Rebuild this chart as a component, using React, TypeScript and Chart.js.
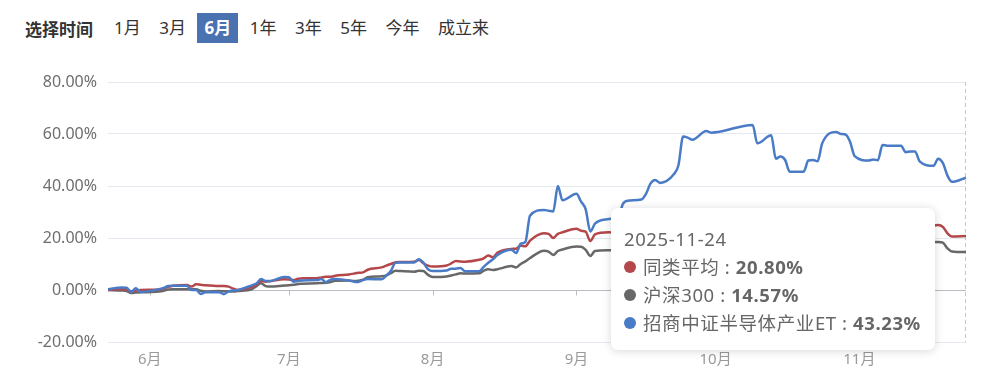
import React, { useEffect, useRef } from "react";
import { Chart, registerables } from "chart.js";

Chart.register(...registerables);

const FONT = '"Microsoft YaHei", "Noto Sans", "Noto Sans CJK SC", sans-serif';

const periods = ["1月", "3月", "6月", "1年", "3年", "5年", "今年", "成立来"];
const selectedPeriod = "6月";
const seriesNames = ["同类平均", "沪深300", "招商中证半导体产业ET"];
const seriesColors = ["#b4474a", "#686868", "#4a7bc6"];

const rangeStart = "2025-05-23";
const rangeEnd = "2025-11-24";
const monthTicks = ["2025-06-01", "2025-07-01", "2025-08-01", "2025-09-01", "2025-10-01", "2025-11-01"];
const monthLabels = ["6月", "7月", "8月", "9月", "10月", "11月"];
const yTicks = [-20, 0, 20, 40, 60, 80];

const dates = [
  "2025-05-23", "2025-05-26", "2025-05-27", "2025-05-28", "2025-05-29", "2025-05-30",
  "2025-06-03", "2025-06-04", "2025-06-05", "2025-06-06", "2025-06-09", "2025-06-10", "2025-06-11", "2025-06-12", "2025-06-13",
  "2025-06-16", "2025-06-17", "2025-06-18", "2025-06-19", "2025-06-20", "2025-06-23", "2025-06-24", "2025-06-25", "2025-06-26", "2025-06-27", "2025-06-30",
  "2025-07-01", "2025-07-02", "2025-07-03", "2025-07-04", "2025-07-07", "2025-07-08", "2025-07-09", "2025-07-10", "2025-07-11",
  "2025-07-14", "2025-07-15", "2025-07-16", "2025-07-17", "2025-07-18", "2025-07-21", "2025-07-22", "2025-07-23", "2025-07-24", "2025-07-25",
  "2025-07-28", "2025-07-29", "2025-07-30", "2025-07-31",
  "2025-08-01", "2025-08-04", "2025-08-05", "2025-08-06", "2025-08-07", "2025-08-08", "2025-08-11", "2025-08-12", "2025-08-13", "2025-08-14", "2025-08-15",
  "2025-08-18", "2025-08-19", "2025-08-20", "2025-08-21", "2025-08-22", "2025-08-25", "2025-08-26", "2025-08-27", "2025-08-28", "2025-08-29",
  "2025-09-01", "2025-09-02", "2025-09-03", "2025-09-04", "2025-09-05", "2025-09-08", "2025-09-09", "2025-09-10", "2025-09-11", "2025-09-12",
  "2025-09-15", "2025-09-16", "2025-09-17", "2025-09-18", "2025-09-19", "2025-09-22", "2025-09-23", "2025-09-24", "2025-09-25", "2025-09-26",
  "2025-09-29", "2025-09-30",
  "2025-10-09", "2025-10-10", "2025-10-13", "2025-10-14", "2025-10-15", "2025-10-16", "2025-10-17", "2025-10-20", "2025-10-21", "2025-10-22",
  "2025-10-23", "2025-10-24", "2025-10-27", "2025-10-28", "2025-10-29", "2025-10-30", "2025-10-31",
  "2025-11-03", "2025-11-04", "2025-11-05", "2025-11-06", "2025-11-07", "2025-11-10", "2025-11-11", "2025-11-12", "2025-11-13", "2025-11-14",
  "2025-11-17", "2025-11-18", "2025-11-19", "2025-11-20", "2025-11-21", "2025-11-24",
];

const avgValues = [
  0.0, 0.4, 0.2, -0.5, -0.3, 0.0,
  0.2, 0.6, 1.2, 1.6, 1.9, 1.3, 2.2, 2.0, 1.8,
  1.5, 1.5, 1.3, 0.5, 0.0, 1.2, 2.0, 3.5, 3.2, 3.4, 4.1,
  4.0, 3.8, 4.3, 4.5, 4.5, 4.8, 5.1, 5.1, 5.5,
  6.0, 6.3, 6.6, 6.8, 7.8, 8.7, 9.4, 10.0, 10.7, 10.8,
  10.9, 11.5, 10.3, 9.4,
  9.0, 9.4, 10.2, 11.2, 11.0, 10.9, 11.6, 12.2, 13.3, 12.6, 14.4,
  15.8, 15.9, 17.0, 16.8, 19.0, 21.8, 21.6, 20.0, 21.6, 22.2,
  23.6, 22.8, 22.4, 18.8, 21.4, 22.2, 22.0, 22.5, 23.4, 23.8,
  23.9, 24.2, 25.0, 24.6, 24.8, 25.3, 25.8, 27.0, 26.8, 26.2,
  27.2, 27.5,
  28.2, 26.0, 26.8, 25.2, 25.9, 25.5, 24.0, 24.5, 25.3, 25.2,
  25.0, 26.5, 27.6, 27.3, 27.5, 26.6, 25.8,
  25.9, 25.0, 25.3, 26.4, 26.2, 26.4, 25.9, 25.7, 25.9, 25.0,
  24.8, 25.0, 24.3, 21.8, 20.6, 20.8,
];

const hs300Values = [
  0.0, -0.2, -0.4, -1.2, -1.0, -0.9,
  -0.6, -0.3, 0.2, 0.3, 0.3, 0.3, 0.3, -0.3, -0.6,
  -0.4, -0.5, -0.5, -0.6, -0.4, 0.3, 1.5, 2.6, 1.5, 1.3, 1.7,
  1.8, 2.0, 2.3, 2.4, 2.6, 2.7, 2.8, 3.1, 3.6,
  3.7, 3.5, 3.6, 4.0, 4.9, 5.3, 5.6, 6.5, 7.4, 7.3,
  7.0, 7.4, 7.3, 5.8,
  5.0, 5.2, 5.6, 6.0, 6.4, 6.3, 6.4, 7.4, 8.0, 7.7, 8.0,
  9.2, 8.7, 10.0, 11.0, 12.3, 15.1, 14.8, 13.5, 15.0, 15.6,
  16.7, 16.6, 15.4, 13.1, 15.0, 15.3, 15.4, 15.6, 16.5, 16.8,
  17.0, 16.6, 17.2, 16.0, 16.2, 16.4, 16.2, 17.3, 17.5, 16.6,
  17.8, 18.4,
  19.8, 18.2, 17.4, 17.1, 18.4, 18.3, 16.5, 17.5, 19.2, 18.9,
  19.2, 20.0, 21.3, 21.0, 21.6, 20.6, 19.8,
  20.4, 19.4, 19.6, 20.5, 20.2, 20.6, 20.3, 20.1, 20.4, 19.0,
  18.4, 18.5, 18.2, 16.0, 14.8, 14.57,
];

const etfValues = [
  0.3, 1.0, 0.9, -0.8, 0.7, -0.8,
  0.3, 0.8, 1.5, 1.6, 1.6, 0.0, 0.0, -1.5, -0.9,
  -0.9, -1.6, -0.5, -0.2, 0.0, 1.8, 2.5, 4.2, 3.5, 3.5, 5.0,
  4.9, 3.2, 3.5, 3.7, 3.8, 4.2, 3.0, 4.0, 4.2,
  3.6, 3.2, 3.1, 3.8, 4.2, 4.1, 5.5, 7.4, 10.5, 10.6,
  10.6, 11.8, 10.5, 8.0,
  7.3, 7.5, 8.2, 8.2, 8.5, 7.2, 7.2, 8.9, 10.5, 11.8, 13.5,
  15.5, 14.2, 17.8, 18.5, 28.6, 30.8, 30.5, 30.2, 40.0, 34.5,
  37.0, 34.0, 31.0, 22.5, 25.5, 27.3, 27.5, 27.6, 33.0, 34.3,
  34.8, 37.0, 41.0, 42.3, 41.2, 44.5, 48.0, 59.0, 58.6, 57.8,
  61.2, 60.5,
  63.5, 56.4, 59.5, 50.5, 51.3, 50.0, 45.5, 45.5, 49.8, 50.0,
  49.5, 56.4, 60.8, 60.0, 59.8, 57.0, 51.5,
  49.8, 50.2, 49.9, 55.8, 55.5, 55.5, 53.0, 53.3, 53.3, 49.5,
  47.8, 50.5, 48.9, 44.0, 41.6, 43.23,
];

const seriesValues = [avgValues, hs300Values, etfValues];

function dayNum(s: string): number {
  const [y, m, d] = s.split("-").map(Number);
  return Date.UTC(y, m - 1, d) / 86400000;
}

export default function App() {
  const canvasRef = useRef<HTMLCanvasElement>(null);
  const tipRef = useRef<HTMLDivElement>(null);

  useEffect(() => {
    const canvas = canvasRef.current!;
    const tip = tipRef.current!;
    const lastIndex = dates.length - 1;

    const axisPlugin = {
      id: "zeroAxis",
      beforeDatasetsDraw(chart: any) {
        const { ctx, chartArea, scales } = chart;
        const y0 = Math.round(scales.y.getPixelForValue(0)) + 0.5;
        ctx.save();
        ctx.strokeStyle = "#b9bcc4";
        ctx.lineWidth = 1;
        ctx.beginPath();
        ctx.moveTo(chartArea.left, y0);
        ctx.lineTo(chartArea.right, y0);
        monthTicks.forEach((d) => {
          const x = Math.round(scales.x.getPixelForValue(dayNum(d))) + 0.5;
          ctx.moveTo(x, y0);
          ctx.lineTo(x, y0 + 5);
        });
        ctx.stroke();
        const px = Math.round(scales.x.getPixelForValue(dayNum(dates[lastIndex]))) - 0.5;
        ctx.strokeStyle = "#c4c7cf";
        ctx.setLineDash([4, 3]);
        ctx.beginPath();
        ctx.moveTo(px, chartArea.top);
        ctx.lineTo(px, chartArea.bottom);
        ctx.stroke();
        ctx.restore();
      },
    };

    const external = ({ chart, tooltip }: any) => {
      const pts = tooltip.dataPoints || [];
      if (!pts.length) {
        tip.style.opacity = "0";
        return;
      }
      const sorted = [...pts].sort((a: any, b: any) => a.datasetIndex - b.datasetIndex);
      const idx = sorted[0].dataIndex;
      tip.innerHTML = "";
      const title = document.createElement("div");
      title.textContent = dates[idx];
      tip.appendChild(title);
      sorted.forEach((p: any) => {
        const row = document.createElement("div");
        row.style.display = "flex";
        row.style.alignItems = "center";
        const dot = document.createElement("span");
        dot.style.cssText = `display:inline-block;width:12px;height:12px;border-radius:6px;margin-right:7px;background:${seriesColors[p.datasetIndex]}`;
        const label = document.createElement("span");
        label.textContent = seriesNames[p.datasetIndex] + " : ";
        label.style.whiteSpace = "pre";
        const val = document.createElement("span");
        val.style.fontWeight = "bold";
        val.textContent = seriesValues[p.datasetIndex][p.dataIndex].toFixed(2) + "%";
        row.appendChild(dot);
        row.appendChild(label);
        row.appendChild(val);
        tip.appendChild(row);
      });
      const x = chart.scales.x.getPixelForValue(dayNum(dates[idx]));
      tip.style.opacity = "1";
      tip.style.left = canvas.offsetLeft + x - 31 - tip.offsetWidth + "px";
      tip.style.top = canvas.offsetTop + chart.chartArea.top + 126 + "px";
    };

    const chart = new Chart(canvas, {
      type: "line",
      data: {
        datasets: seriesNames.map((name, i) => ({
          label: name,
          data: dates.map((d, j) => ({ x: dayNum(d), y: seriesValues[i][j] })),
          borderColor: seriesColors[i],
          backgroundColor: seriesColors[i],
          borderWidth: 2.5,
          pointRadius: 0,
          pointHoverRadius: 0,
          cubicInterpolationMode: "monotone" as const,
          fill: false,
          order: i === 2 ? 0 : i + 1,
        })),
      },
      options: {
        responsive: false,
        animation: false,
        events: [],
        layout: { padding: { top: 22, right: 18, left: 0, bottom: 0 } },
        plugins: {
          legend: { display: false },
          tooltip: { enabled: false, mode: "index", intersect: false, external },
        },
        scales: {
          x: {
            type: "linear",
            min: dayNum(rangeStart),
            max: dayNum(rangeEnd),
            afterBuildTicks: (scale: any) => {
              scale.ticks = monthTicks.map((d) => ({ value: dayNum(d) }));
            },
            afterFit: (scale: any) => {
              scale.height = 36;
            },
            grid: { display: false, drawTicks: false },
            border: { display: false },
            ticks: {
              autoSkip: false,
              maxRotation: 0,
              padding: 9,
              color: "#9a9a9a",
              font: { family: FONT, size: 15 },
              callback: (v: any) => {
                const k = monthTicks.findIndex((d) => dayNum(d) === v);
                return k >= 0 ? monthLabels[k] : "";
              },
            },
          },
          y: {
            min: yTicks[0],
            max: yTicks[yTicks.length - 1],
            afterBuildTicks: (scale: any) => {
              scale.ticks = yTicks.map((v) => ({ value: v }));
            },
            afterFit: (scale: any) => {
              scale.width = 108;
            },
            grid: { color: "#e4e8f0", lineWidth: 1, drawTicks: false },
            border: { display: false },
            ticks: {
              padding: 11,
              color: "#6e6e6e",
              font: { family: FONT, size: 16 },
              callback: (v: any) => Number(v).toFixed(2) + "%",
            },
          },
        },
      },
      plugins: [axisPlugin],
    });

    chart.tooltip!.setActiveElements(
      seriesNames.map((_, i) => ({ datasetIndex: i, index: lastIndex })),
      { x: 0, y: 0 }
    );
    chart.update();

    return () => {
      chart.destroy();
      tip.innerHTML = "";
      tip.style.opacity = "0";
    };
  }, []);

  return (
    <div style={{ position: "fixed", left: 0, top: 0, width: 984, height: 378, background: "#fff", fontFamily: FONT, overflow: "hidden" }}>
      <div style={{ position: "absolute", left: 25, top: 13, height: 30, display: "flex", alignItems: "center", fontSize: 17, color: "#333" }}>
        <span style={{ fontWeight: "bold", marginRight: 14 }}>选择时间</span>
        {periods.map((p) => {
          const sel = p === selectedPeriod;
          return (
            <span
              key={p}
              style={{
                padding: "0 7px",
                marginRight: 4.5,
                height: 30,
                lineHeight: "30px",
                background: sel ? "#4a71b0" : "transparent",
                color: sel ? "#fff" : "#333",
                fontWeight: sel ? "bold" : "normal",
              }}
            >
              {p}
            </span>
          );
        })}
      </div>
      <canvas ref={canvasRef} width={984} height={318} style={{ position: "absolute", left: 0, top: 60, width: 984, height: 318 }} />
      <div
        ref={tipRef}
        style={{
          position: "absolute",
          opacity: 0,
          background: "#fff",
          borderRadius: 7,
          boxShadow: "0 1px 10px rgba(0,0,0,0.16)",
          padding: "17px 14px 13px 13px",
          fontSize: 18.5,
          letterSpacing: 0.6,
          lineHeight: "28px",
          color: "#666",
          whiteSpace: "nowrap",
          pointerEvents: "none",
        }}
      />
    </div>
  );
}
